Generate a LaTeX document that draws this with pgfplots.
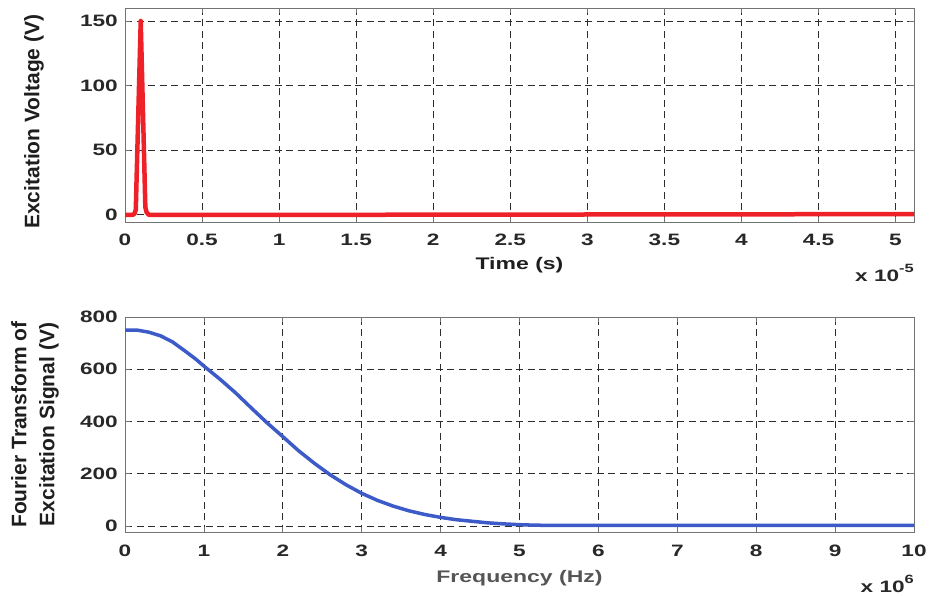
\documentclass[border=0pt]{standalone}
\usepackage{fontspec}
\setmainfont{Liberation Sans}
\newfontfamily\wide{Liberation Sans}[FakeStretch=1.37]
\usepackage{pgfplots}
\pgfplotsset{compat=1.18}
\definecolor{mred}{RGB}{238,32,40}
\definecolor{mblue}{RGB}{60,90,200}
\definecolor{framegray}{RGB}{115,115,115}
\definecolor{gridgray}{RGB}{45,45,45}
\definecolor{tickc}{RGB}{40,40,40}
\definecolor{lab1}{RGB}{30,30,30}
\definecolor{lab2}{RGB}{85,85,85}
\pgfplotsset{mystyle/.style={
  scale only axis, width=789bp,
  axis line style={framegray, line width=0.9bp},
  grid=major,
  major grid style={gridgray, line width=0.8bp, dash pattern=on 7bp off 4.5bp},
  tick align=inside, major tick length=5bp,
  tick style={framegray, line width=0.8bp},
  ticklabel style={font=\wide\bfseries\fontsize{16.5bp}{20bp}\selectfont, text=tickc},
  /pgf/number format/assume math mode=true,
  xticklabel style={anchor=base, inner sep=0pt, yshift=-24bp},
  yticklabel style={anchor=east, inner sep=0pt, xshift=-7bp},
  scaled ticks=false,
}}
\begin{document}
\begin{tikzpicture}
\useasboundingbox (0,0) rectangle (929bp,596bp);
% top axis
\begin{axis}[mystyle, at={(125bp,374bp)}, anchor=south west, height=214bp,
  xmin=0, xmax=5.12, ymin=-5.5, ymax=160,
  xtick={0,0.5,...,5}, ytick={0,50,100,150},
  xticklabels={0,0.5,1,1.5,2,2.5,3,3.5,4,4.5,5},
  xlabel={Time (s)},
  xlabel style={at={(axis description cs:0.5,0)}, anchor=base, yshift=-48bp, font=\wide\bfseries\fontsize{16.8bp}{20bp}\selectfont, text=lab1},
  ylabel={Excitation Voltage (V)},
  ylabel style={at={(axis description cs:-0.1086,0.4687)}, anchor=base, font=\bfseries\fontsize{21bp}{24bp}\selectfont, text=lab1},
]
\addplot[mred, line width=4.5bp, line join=round] coordinates {
(0,0) (0.05,0) (0.062,1) (0.07,4) (0.102,150) (0.132,6) (0.14,2) (0.155,0) (1,0) (3,0.3) (5.12,0.6)};
\end{axis}
% bottom axis
\begin{axis}[mystyle, at={(125bp,64bp)}, anchor=south west, height=215bp,
  xmin=0, xmax=10, ymin=-23, ymax=800,
  xtick={0,1,...,10}, ytick={0,200,400,600,800},
  xlabel={Frequency (Hz)},
  xlabel style={at={(axis description cs:0.5,0)}, anchor=base, yshift=-50bp, font=\wide\bfseries\fontsize{16.8bp}{20bp}\selectfont, text=lab2},
  ylabel={Fourier Transform of\\Excitation Signal (V)},
  ylabel style={at={(axis description cs:-0.1140,0.5)}, anchor=center, align=center, font=\bfseries\fontsize{21bp}{28bp}\selectfont, text=lab1},
]
\addplot[mblue, line width=3.5bp, line join=round] coordinates {
(0,750) (0.15,750) (0.3,742) (0.45,728) (0.6,705) (0.76,670) (0.9,638) (1.0,612)
(1.2,563) (1.4,510) (1.6,452) (1.8,395) (2.0,342) (2.2,288) (2.4,240) (2.6,196)
(2.8,158) (3.0,125) (3.2,98) (3.4,76) (3.6,58) (3.8,44) (4.0,33) (4.2,24) (4.4,18)
(4.6,12) (4.8,8) (5.0,5) (5.2,3) (5.6,2) (6,2) (7,2) (8,2) (9,2) (10,2)};
\end{axis}
\node[anchor=base east, inner sep=0pt, text=tickc] at (914bp,314.3bp) {\wide\bfseries\fontsize{16.5bp}{20bp}\selectfont x 10\raisebox{9bp}{\fontsize{12bp}{14bp}\selectfont -5}};
\node[anchor=base east, inner sep=0pt, text=tickc] at (914bp,3.5bp) {\wide\bfseries\fontsize{16.5bp}{20bp}\selectfont x 10\raisebox{9bp}{\fontsize{12bp}{14bp}\selectfont 6}};
\end{tikzpicture}
\end{document}
